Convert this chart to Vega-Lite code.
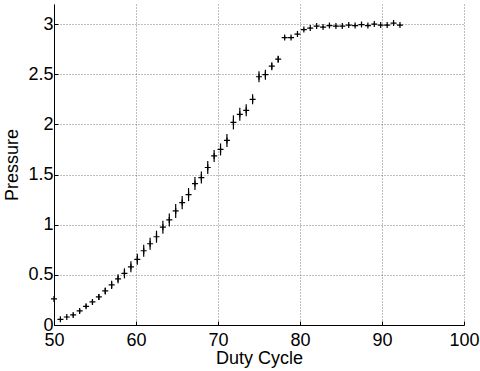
{
  "$schema": "https://vega.github.io/schema/vega-lite/v6.json",
  "width": 410,
  "height": 321,
  "autosize": {"type": "none"},
  "padding": {"left": 54, "top": 4, "right": 16, "bottom": 46},
  "background": "white",
  "config": {
    "view": {"stroke": null},
    "font": "Liberation Sans",
    "axis": {
      "labelFont": "Liberation Sans",
      "titleFont": "Liberation Sans",
      "labelFontSize": 18,
      "titleFontSize": 18,
      "labelColor": "#000",
      "titleColor": "#000",
      "titleFontWeight": "normal",
      "domainColor": "#000",
      "domainWidth": 1,
      "tickColor": "#000",
      "tickSize": -4,
      "gridColor": "#000",
      "gridOpacity": 0.5,
      "gridDash": [1, 2],
      "gridWidth": 1,
      "labelOverlap": false,
      "labelBound": false,
      "labelFlush": false
    }
  },
  "data": {
    "values": [
      {"duty": 50.00, "p": 0.26, "e": 0.0},
      {"duty": 50.78, "p": 0.057, "e": 0.01},
      {"duty": 51.56, "p": 0.08, "e": 0.01},
      {"duty": 52.34, "p": 0.10, "e": 0.015},
      {"duty": 53.13, "p": 0.14, "e": 0.02},
      {"duty": 53.91, "p": 0.186, "e": 0.02},
      {"duty": 54.69, "p": 0.23, "e": 0.025},
      {"duty": 55.47, "p": 0.28, "e": 0.03},
      {"duty": 56.25, "p": 0.34, "e": 0.035},
      {"duty": 57.03, "p": 0.40, "e": 0.04},
      {"duty": 57.81, "p": 0.46, "e": 0.045},
      {"duty": 58.59, "p": 0.515, "e": 0.05},
      {"duty": 59.38, "p": 0.58, "e": 0.055},
      {"duty": 60.16, "p": 0.655, "e": 0.055},
      {"duty": 60.94, "p": 0.74, "e": 0.06},
      {"duty": 61.72, "p": 0.81, "e": 0.06},
      {"duty": 62.50, "p": 0.88, "e": 0.06},
      {"duty": 63.28, "p": 0.975, "e": 0.065},
      {"duty": 64.06, "p": 1.047, "e": 0.065},
      {"duty": 64.84, "p": 1.137, "e": 0.07},
      {"duty": 65.63, "p": 1.22, "e": 0.065},
      {"duty": 66.41, "p": 1.30, "e": 0.065},
      {"duty": 67.19, "p": 1.41, "e": 0.065},
      {"duty": 67.97, "p": 1.47, "e": 0.06},
      {"duty": 68.75, "p": 1.57, "e": 0.065},
      {"duty": 69.53, "p": 1.685, "e": 0.06},
      {"duty": 70.31, "p": 1.75, "e": 0.06},
      {"duty": 71.09, "p": 1.84, "e": 0.065},
      {"duty": 71.88, "p": 2.02, "e": 0.07},
      {"duty": 72.66, "p": 2.10, "e": 0.065},
      {"duty": 73.44, "p": 2.14, "e": 0.06},
      {"duty": 74.22, "p": 2.25, "e": 0.05},
      {"duty": 75.00, "p": 2.475, "e": 0.055},
      {"duty": 75.78, "p": 2.495, "e": 0.05},
      {"duty": 76.56, "p": 2.58, "e": 0.04},
      {"duty": 77.34, "p": 2.65, "e": 0.035},
      {"duty": 78.13, "p": 2.865, "e": 0.01},
      {"duty": 78.91, "p": 2.865, "e": 0.01},
      {"duty": 79.69, "p": 2.90, "e": 0.01},
      {"duty": 80.47, "p": 2.945, "e": 0.01},
      {"duty": 81.25, "p": 2.96, "e": 0.01},
      {"duty": 82.03, "p": 2.98, "e": 0.01},
      {"duty": 82.81, "p": 2.97, "e": 0.01},
      {"duty": 83.59, "p": 2.985, "e": 0.01},
      {"duty": 84.38, "p": 2.98, "e": 0.01},
      {"duty": 85.16, "p": 2.98, "e": 0.01},
      {"duty": 85.94, "p": 2.99, "e": 0.01},
      {"duty": 86.72, "p": 2.985, "e": 0.01},
      {"duty": 87.50, "p": 2.995, "e": 0.01},
      {"duty": 88.28, "p": 2.985, "e": 0.01},
      {"duty": 89.06, "p": 3.00, "e": 0.01},
      {"duty": 89.84, "p": 2.99, "e": 0.01},
      {"duty": 90.63, "p": 2.99, "e": 0.01},
      {"duty": 91.41, "p": 3.01, "e": 0.01},
      {"duty": 92.19, "p": 2.99, "e": 0.01}
    ]
  },
  "layer": [
    {
      "mark": {"type": "errorbar", "ticks": false, "color": "#000", "thickness": 1.2},
      "encoding": {
        "x": {"field": "duty", "type": "quantitative", "title": "Duty Cycle"},
        "y": {"field": "p", "type": "quantitative", "title": "Pressure"},
        "yError": {"field": "e"}
      }
    },
    {
      "mark": {"type": "point", "shape": "M-1,0L1,0M0,-1L0,1", "filled": false, "stroke": "#000", "strokeWidth": 1.2, "size": 36, "opacity": 1},
      "encoding": {
        "x": {
          "field": "duty", "type": "quantitative",
          "scale": {"domain": [50, 100], "nice": false, "zero": false},
          "axis": {"title": "Duty Cycle", "values": [50, 60, 70, 80, 90, 100], "labelPadding": 10, "titlePadding": 0, "format": "d"}
        },
        "y": {
          "field": "p", "type": "quantitative",
          "scale": {"domain": [0, 3.2], "nice": false, "zero": true},
          "axis": {"title": "Pressure", "values": [0, 0.5, 1, 1.5, 2, 2.5, 3], "labelPadding": 5, "titlePadding": 6, "format": "~r"}
        }
      }
    }
  ]
}
